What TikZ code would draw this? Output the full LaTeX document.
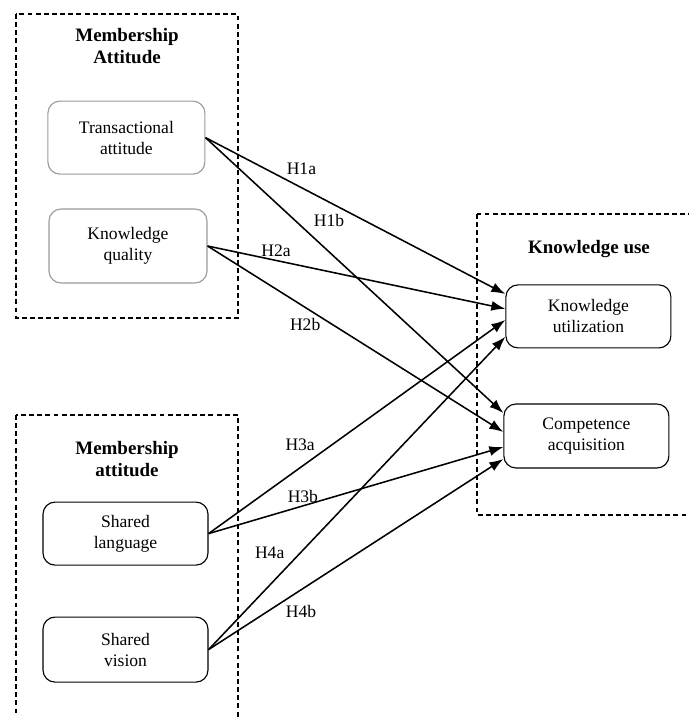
\documentclass[tikz,border=0pt]{standalone}
\usepackage{fontspec}
\setmainfont{Liberation Serif}
\usetikzlibrary{arrows.meta, calc}

\begin{document}
\begin{tikzpicture}[
	font=\fontsize{12.5}{15}\selectfont,
	group/.style={draw, line width=1pt, dash pattern=on 3.5pt off 2.3pt},
	construct/.style={draw, rounded corners=0.3cm, align=center, line width=0.8pt, inner sep=0pt},
	title/.style={align=center, font=\fontsize{13.5}{15.5}\selectfont\bfseries},
	hyp/.style={-{Latex[length=0.35cm,width=0.25cm]}, line width=1.1pt},
	hlabel/.style={inner sep=2pt}
]
	\def\bw{4.125}
	\def\bh{1.6}
	\useasboundingbox (0,0) rectangle (17.2,-17.925);

	% groups
	\draw[group] (0.4,-0.35) rectangle (5.95,-7.95);
	\draw[group] (0.4,-10.375) rectangle (5.95,-18.3);
	\draw[group] (11.925,-5.35) rectangle (17.5,-12.875);

	\node[title] (attitude1) at (3.175,-1.15) {Membership\\Attitude};
	\node[title] (attitude2) at (3.175,-11.475) {Membership\\attitude};
	\node[title] (use) at (14.725,-6.225) {Knowledge use};

	% constructs
	\node[construct, draw=gray!80, minimum width=3.925cm, minimum height=1.825cm] (trans) at (3.16,-3.44) {Transactional\\attitude};
	\node[construct, draw=gray!80, minimum width=3.95cm, minimum height=1.85cm] (quality) at (3.2,-6.15) {Knowledge\\quality};
	\node[construct, minimum width=\bw cm, minimum height=1.575cm] (language) at (3.1375,-13.34) {Shared\\language};
	\node[construct, minimum width=\bw cm, minimum height=1.625cm] (vision) at (3.1375,-16.24) {Shared\\vision};
	\node[construct, minimum width=\bw cm, minimum height=1.575cm] (util) at (14.71,-7.91) {Knowledge\\utilization};
	\node[construct, minimum width=\bw cm, minimum height=\bh cm] (comp) at (14.66,-10.9) {Competence\\acquisition};

	% hypotheses
	\draw[hyp] (trans.east) -- node[hlabel, pos=0.32, above=7pt] (h1a) {H1a} ([yshift=0.56cm]util.west);
	\draw[hyp] (trans.east) -- node[hlabel, pos=0.3, right=11pt] (h1b) {H1b} ([yshift=0.575cm]comp.west);
	\draw[hyp] (quality.east) -- node[hlabel, pos=0.23, above] (h2a) {H2a} ([yshift=0.19cm]util.west);
	\draw[hyp] (quality.east) -- node[hlabel, pos=0.33, below=5pt] (h2b) {H2b} ([yshift=0.1cm]comp.west);
	\draw[hyp] (language.east) -- node[hlabel, pos=0.37, above left] (h3a) {H3a} ([yshift=-0.09cm]util.west);
	\draw[hyp] (language.east) -- node[hlabel, pos=0.32, above] (h3b) {H3b} ([yshift=-0.275cm]comp.west);
	\draw[hyp] (vision.east) -- node[hlabel, pos=0.31, left=9pt] (h4a) {H4a} ([yshift=-0.51cm]util.west);
	\draw[hyp] (vision.east) -- node[hlabel, pos=0.25, below right] (h4b) {H4b} ([yshift=-0.575cm]comp.west);
\end{tikzpicture}
\end{document}
